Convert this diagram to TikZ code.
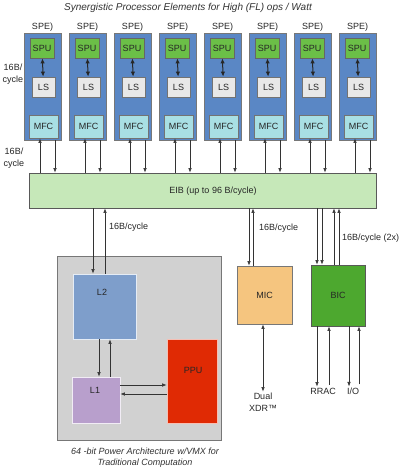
\documentclass[tikz,border=0pt]{standalone}
\usepackage{fontspec}
\setmainfont{Liberation Sans}
\usetikzlibrary{calc,arrows.meta}
\definecolor{speblue}{HTML}{5A87C5}
\definecolor{spugreen}{HTML}{6BBF47}
\definecolor{lsgray}{HTML}{E8E8E8}
\definecolor{mfccyan}{HTML}{A8DFE4}
\definecolor{eibgreen}{HTML}{C6E8B9}
\definecolor{pwrgray}{HTML}{D1D1D1}
\definecolor{ltwo}{HTML}{7E9ECB}
\definecolor{lone}{HTML}{B89FCC}
\definecolor{ppured}{HTML}{E02A04}
\definecolor{micorange}{HTML}{F5C57F}
\definecolor{bicgreen}{HTML}{4DA82F}
\definecolor{edge}{HTML}{777777}
\begin{document}
\begin{tikzpicture}[x=1pt,y=-1pt,
  txt/.style={font=\fontsize{9}{12}\selectfont, inner sep=1pt, text=black!85},
  ital/.style={font=\fontsize{9}{11}\selectfont\itshape, inner sep=1pt, text=black!80, align=center},
  boxbase/.style={draw=edge, line width=0.8pt, inner sep=0pt, font=\fontsize{9}{10}\selectfont, text=black!85},
  spebox/.style={boxbase, fill=speblue, minimum width=37pt, minimum height=107pt},
  spubox/.style={boxbase, draw=black!60, fill=spugreen, minimum width=24pt, minimum height=20pt},
  lsbox/.style={boxbase, draw=black!55, fill=lsgray, minimum width=23pt, minimum height=20pt},
  mfcbox/.style={boxbase, draw=black!55, fill=mfccyan, minimum width=29pt, minimum height=23pt},
  arr/.style={-{Latex[length=4.5pt,width=3.5pt]}, line width=0.6pt, draw=black!80},
  darr/.style={{Latex[length=4.5pt,width=3.5pt]}-{Latex[length=4.5pt,width=3.5pt]}, line width=0.6pt, draw=black!80},
  sarr/.style={{Latex[length=5pt,width=4.5pt]}-{Latex[length=5pt,width=4.5pt]}, line width=1pt, draw=black!85}
]
\useasboundingbox (0,0) rectangle (400,470);
\fill[white] (0,0) rectangle (400,470);

\node[font=\fontsize{10}{12}\selectfont\itshape, text=black!80, inner sep=0pt] (title) at (188,8) {Synergistic Processor Elements for High (FL) ops / Watt};

% EIB
\node[boxbase, draw=black!65, fill=eibgreen, minimum width=347pt, minimum height=35pt] (eib) at (202.5,190.5) {};
\node[txt] (eibt) at (213,191) {EIB (up to 96 B/cycle)};

% SPEs
\foreach \i/\l in {1/24,2/69,3/114,4/159,5/204,6/249,7/294,8/339}{
  \node[spebox] (spe\i) at (\l+18.5,86.5) {};
  \node[txt] (spel\i) at (\l+18.5,27) {SPE)};
  \node[spubox] (spu\i) at (\l+18,48) {SPU};
  \node[lsbox] (ls\i) at (\l+19.5,87) {LS};
  \node[mfcbox] (mfc\i) at (\l+19.5,126.5) {MFC};
  \draw[sarr] (spu\i) -- (ls\i);
  \path ([xshift=-3.5pt]mfc\i.south) coordinate (u\i);
  \path ([xshift=12.5pt]spe\i.south) coordinate (d\i);
  \draw[arr] (u\i |- eib.north) -- (u\i);
  \draw[arr] (d\i) -- (d\i |- eib.north);
}

\node[txt, align=center] (lab1) at (13,74) {16B/\\cycle};
\node[txt, align=center] (lab2) at (14,158) {16B/\\cycle};

% Power processor element
\node[boxbase, fill=pwrgray, minimum width=164pt, minimum height=184pt] (pwr) at (139,348) {};
\node[boxbase, draw=white!80!ltwo, fill=ltwo, minimum width=63pt, minimum height=65pt] (l2) at (104.5,306.5) {};
\node[txt] (l2t) at (102,292) {L2};
\node[boxbase, draw=white!80!lone, fill=lone, minimum width=48pt, minimum height=46pt] (l1) at (96,400) {};
\node[txt] (l1t) at (95,390) {L1};
\node[boxbase, draw=white!70!ppured, fill=ppured, minimum width=50pt, minimum height=84pt] (ppu) at (192,381) {};
\node[txt] (pput) at (193,370) {PPU};

\path ([xshift=-11.5pt]l2.north) coordinate (a1);
\path ([xshift=0.5pt]l2.north) coordinate (a2);
\draw[arr] (a1 |- eib.south) -- (a1);
\draw[arr] (a2) -- (a2 |- eib.south);
\node[txt, anchor=west] (lab3) at (108,227) {16B/cycle};

\path ([xshift=3pt]l1.north) coordinate (b1);
\path ([xshift=14pt]l1.north) coordinate (b2);
\draw[arr] (b1 |- l2.south) -- (b1);
\draw[arr] (b2) -- (b2 |- l2.south);

\path ([yshift=15pt]l1.east) coordinate (c1);
\path ([yshift=6pt]l1.east) coordinate (c2);
\draw[arr] (c1) -- (c1 -| ppu.west);
\draw[arr] (c2 -| ppu.west) -- (c2);

\node[ital] (cap) at (145,458) {64 -bit Power Architecture w/VMX for\\Traditional Computation};

% MIC
\node[boxbase, fill=micorange, minimum width=55pt, minimum height=58pt] (mic) at (264.5,295) {MIC};
\path ([xshift=-15.5pt]mic.north) coordinate (m1);
\path ([xshift=-11.5pt]mic.north) coordinate (m2);
\draw[arr] (m1 |- eib.south) -- (m1);
\draw[arr] (m2) -- (m2 |- eib.south);
\node[txt, anchor=west] (lab4) at (258,228) {16B/cycle};
\node[txt, align=center] (xdr) at (263,402) {Dual\\XDR™};
\draw[darr] (xdr.north |- mic.south) -- (xdr.north);

% BIC
\node[boxbase, draw=black!65, fill=bicgreen, minimum width=54pt, minimum height=61pt] (bic) at (338,295.5) {BIC};
\foreach \s/\n in {-21/1,-16/2}{
  \path ([xshift=\s pt]bic.north) coordinate (bd\n);
  \draw[arr] (bd\n |- eib.south) -- (bd\n);
}
\foreach \s/\n in {-4/1,1/2}{
  \path ([xshift=\s pt]bic.north) coordinate (bu\n);
  \draw[arr] (bu\n) -- (bu\n |- eib.south);
}
\node[txt, anchor=west] (lab5) at (341,238) {16B/cycle (2x)};

\node[txt] (rrac) at (323,391) {RRAC};
\node[txt] (io) at (353,391) {I/O};
\path ([xshift=-21pt]bic.south) coordinate (e1);
\path ([xshift=-9pt]bic.south) coordinate (e2);
\path ([xshift=11pt]bic.south) coordinate (e3);
\path ([xshift=21pt]bic.south) coordinate (e4);
\draw[arr] (e1) -- (e1 |- rrac.north);
\draw[arr] ([yshift=2pt]e2 |- rrac.north) -- (e2);
\draw[arr] (e3) -- (e3 |- io.north);
\draw[arr] ([yshift=2pt]e4 |- io.north) -- (e4);
\end{tikzpicture}
\end{document}
